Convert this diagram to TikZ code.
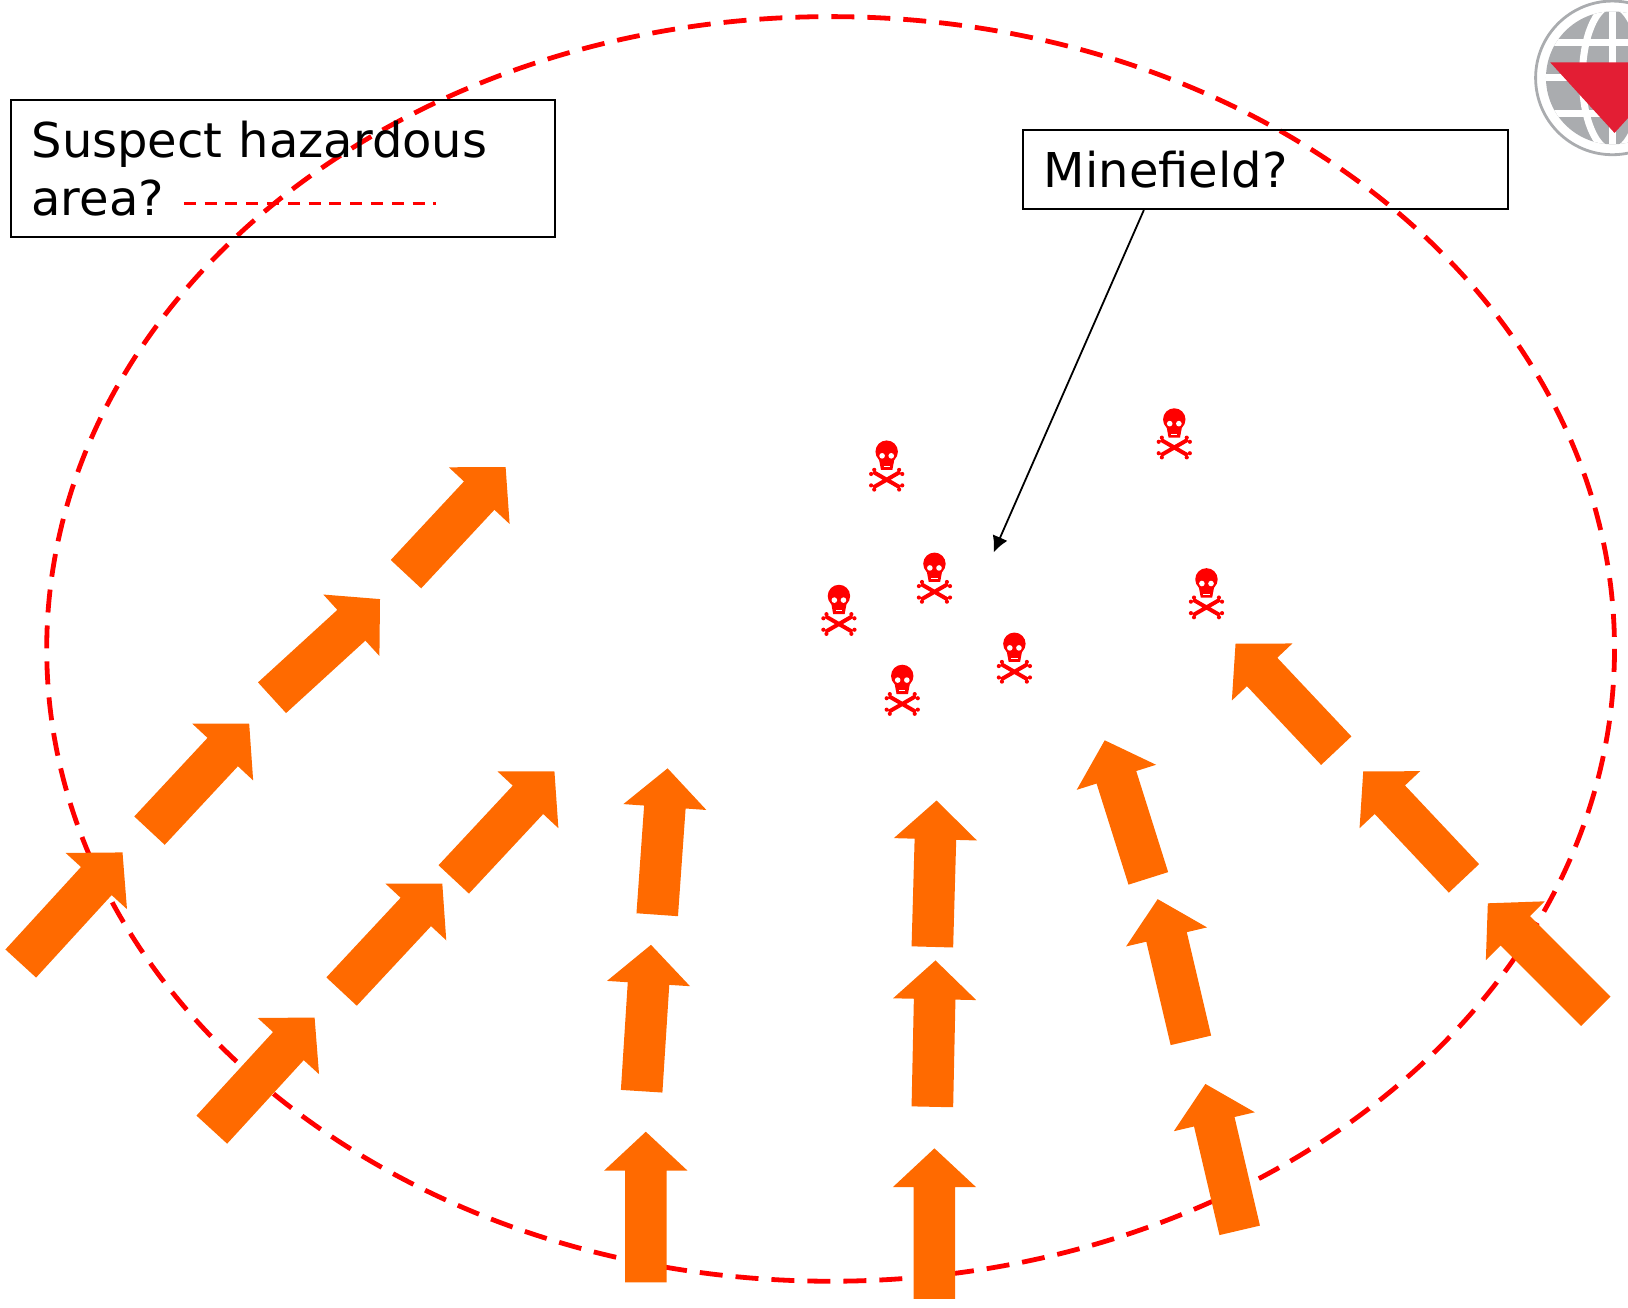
\documentclass[tikz,border=0pt]{standalone}
\usepackage{fontspec}
\setmainfont{DejaVu Sans}
\usetikzlibrary{calc,arrows.meta}
\definecolor{arroworange}{RGB}{255,106,0}
\definecolor{logogray}{RGB}{170,172,175}
\definecolor{logored}{RGB}{227,30,52}
\tikzset{
  labelbox/.style={draw=black,line width=0.9pt,rectangle,anchor=north west,align=left,inner sep=0pt,
    font=\fontsize{24}{29}\selectfont},
  hazardline/.style={draw=red,line width=2.4pt,dash pattern=on 11.5pt off 6.5pt},
  legendline/.style={draw=red,line width=1.8pt,dash pattern=on 6pt off 4.4pt},
  skull/.pic={
    \fill[red] (0,-14) circle (10.8);
    \fill[red] (-8,-10) -- (8,-10) -- (5.5,3.5) -- (-5.5,3.5) -- cycle;
    \fill[white] (-4.4,-10) circle (2.7) (4.4,-10) circle (2.7);
    \draw[white,line width=0.4pt] (-3,0) -- (3,0);
    \draw[red,line width=2pt] (-13,5.5) -- (13,20.5) (-13,20.5) -- (13,5.5);
    \foreach \bx/\by in {-12/3.5,-15/7.5,12/3.5,15/7.5,-12/22.5,-15/18.5,12/22.5,15/18.5}
      \fill[red] (\bx,\by) circle (2);
  }
}
\begin{document}
\begin{tikzpicture}[x=0.5192pt,y=-0.5192pt]
\useasboundingbox (0,0) rectangle (1568,1259);

% hazard outline
\draw[hazardline] (800,625) ellipse (755 and 609);

% logo
\begin{scope}
\clip (0,0) rectangle (1568,1259);
\draw[logogray,line width=1.4pt] (1553,75) circle (74);
\begin{scope}
\clip (1553,75) circle (64);
\fill[logogray] (1553,75) circle (64);
\draw[white,line width=3.5pt] (1553,0) -- (1553,150);
\draw[white,line width=3.5pt] (1553,75) ellipse (29 and 70);
\draw[white,line width=3.5pt] (1480,41) -- (1630,41) (1480,75) -- (1630,75) (1480,109) -- (1630,109);
\end{scope}
\fill[logored] (1493,60) -- (1617,60) -- (1555,128) -- cycle;
\end{scope}

% labels
\node[labelbox,minimum width=272pt,minimum height=68.5pt,text width=251.2pt] (hazardbox) at (9.5,95.5)
  {\raisebox{-1pt}{Suspect hazardous}\\\raisebox{-1pt}{area?}};
\coordinate (dashstart) at (177,196);
\coordinate (dashend) at (420,196);
\draw[legendline] (dashstart) -- (dashend);

\node[labelbox,minimum width=242.5pt,minimum height=39.5pt,text width=221.7pt] (minebox) at (984.5,124.5)
  {\raisebox{-1pt}{Minefield?}};
\coordinate (minetarget) at (957,532);
\draw[-{Latex[length=8pt,width=8pt]},line width=0.9pt] ($(minebox.south west)!0.25!(minebox.south east)$) -- (minetarget);

% skulls
\foreach \sx/\sy in {854/449,1131/418,900/557,808/588,1162/572,977/634,869/665}
{
\pic at (\sx,\sy) {skull};
}

% arrows: tail x/y, tip x/y
\foreach \tx/\ty/\hx/\hy in {
622/1235/622/1090, 900/1251/900/1106,
618/1051/627/910, 633/881/643/740,
898/912/902/771, 898/1066/901/925,
1106/846/1064/713, 1147/1002/1115/866, 1194/1185/1161/1044,
1287/723/1190/620, 1410/846/1313/743, 1537/974/1433/870,
20/928/118/821, 144/800/240/697, 262/672/366/577, 391/553/487/450,
204/1088/303/980, 329/955/426/851, 437/847/534/743}
{
\coordinate (t) at (\tx,\ty);
\coordinate (h) at (\hx,\hy);
\coordinate (b) at ($(h)!19.4pt!(t)$);
\fill[arroworange] ($(t)!10.4pt!90:(h)$) -- ($(b)!10.4pt!-90:(t)$) -- ($(b)!20.8pt!-90:(t)$) -- (h)
  -- ($(b)!20.8pt!90:(t)$) -- ($(b)!10.4pt!90:(t)$) -- ($(t)!10.4pt!-90:(h)$) -- cycle;
}

\end{tikzpicture}
\end{document}
